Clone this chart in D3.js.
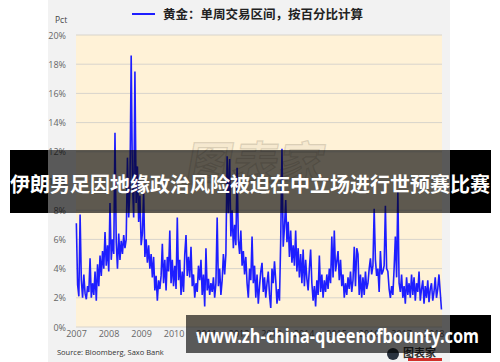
<!DOCTYPE html>
<html>
<head>
<meta charset="utf-8">
<script src="https://cdn.jsdelivr.net/npm/d3@7"></script>
<style>
  html, body { margin: 0; padding: 0; background: #ffffff; }
  svg { display: block; }
</style>
</head>
<body>
<div id="chart"></div>
<script>
// ---------- data ----------
const titleText = "黄金：单周交易区间，按百分比计算";
const unitLabel = "Pct";
const sourceText = "Source: Bloomberg, Saxo Bank";
const bannerText = "伊朗男足因地缘政治风险被迫在中立场进行世预赛比赛";
const footerText = "www.zh-china-queenofbounty.com";
const yearLabels = ["2007","2008","2009","2010","2011","2012","2013","2014","2015","2016","2017","2018"];
const yTickValues = [0, 2, 4, 6, 8, 10, 12, 14, 16, 18, 20];
const startDate = "2007-01-05";
const stepDays = 14;
const weeklyRange = [
  7.1, 2.9, 2.1, 7.7, 3.2, 2.0, 3.6, 2.3, 1.9, 2.8,
  2.4, 4.7, 2.0, 3.0, 2.2, 3.8, 1.8, 4.3, 2.8, 4.9,
  3.5, 5.2, 4.0, 6.5, 4.2, 5.6, 3.8, 8.5, 4.6, 6.0,
  5.0, 13.3, 5.8, 4.0, 6.4, 4.6, 5.9, 5.0, 6.3, 5.4,
  6.0, 11.6, 7.5, 9.5, 18.6, 10.0, 7.5, 17.5, 8.5, 11.0,
  7.2, 9.0, 5.6, 6.4, 9.2, 4.8, 6.0, 4.4, 5.6, 4.0,
  5.0, 3.4, 4.8, 2.5, 3.5, 1.8, 3.2, 2.6, 3.5, 5.7,
  3.0, 4.6, 2.5, 4.8, 3.8, 6.6, 3.0, 4.6, 2.8, 4.2,
  2.6, 7.5, 3.2, 4.6, 2.2, 3.8, 2.4, 5.0, 6.3, 3.5,
  4.8, 3.4, 5.5, 2.8, 3.6, 2.0, 3.0, 2.4, 4.2, 3.2,
  4.6, 2.2, 3.6, 1.4, 5.4, 2.5, 3.3, 2.2, 3.0, 2.4,
  3.4, 2.0, 3.0, 7.5, 2.8, 4.0, 2.2, 3.2, 5.0, 3.6,
  5.0, 11.7, 7.8, 11.5, 6.2, 8.0, 5.4, 7.0, 5.6, 10.9,
  6.0, 5.0, 6.6, 4.2, 5.2, 3.6, 4.8, 3.0, 2.0, 4.0,
  3.2, 6.2, 3.0, 4.2, 2.0, 3.6, 1.6, 2.8, 3.8, 4.4,
  2.4, 3.4, 2.0, 3.0, 3.8, 2.2, 1.3, 4.0, 3.0, 4.5,
  3.2, 1.6, 2.6, 1.8, 6.0, 12.2, 5.5, 6.8, 8.7, 5.8,
  7.2, 4.8, 6.6, 4.4, 5.6, 4.2, 6.6, 3.8, 5.4, 3.4,
  5.0, 3.0, 5.3, 2.8, 4.6, 3.3, 2.5, 4.0, 5.3, 3.0,
  1.8, 2.8, 1.4, 3.2, 2.2, 4.9, 2.4, 3.6, 2.0, 3.2,
  2.4, 3.6, 2.6, 4.0, 3.0, 6.2, 3.4, 6.6, 3.8, 4.5,
  5.2, 3.2, 4.6, 2.8, 3.6, 2.0, 3.0, 2.2, 3.4, 2.6,
  3.8, 2.4, 3.2, 5.5, 2.8, 5.4, 5.0, 2.2, 3.6, 2.0,
  3.4, 2.2, 3.8, 2.6, 3.0, 4.0, 4.7, 3.6, 4.2, 8.1,
  4.6, 3.5, 4.0, 2.4, 5.2, 3.6, 3.8, 4.2, 8.3, 4.0,
  3.8, 2.6, 2.0, 2.8, 2.2, 4.0, 6.2, 3.4, 9.3, 3.0,
  2.4, 3.6, 2.0, 2.8, 1.6, 3.4, 2.2, 3.0, 2.0, 3.6,
  2.2, 3.4, 1.8, 3.0, 2.4, 3.8, 1.8, 2.6, 3.2, 1.6,
  2.8, 2.0, 3.2, 1.7, 2.6, 3.0, 1.8, 2.4, 3.4, 2.0,
  2.6, 3.6, 2.4, 1.2
];

// ---------- layout ----------
const W = 500, H = 362;
const plot = { left: 76, right: 442, top: 35, bottom: 327 };
const parse = d3.timeParse("%Y-%m-%d");
const t0 = parse(startDate);
const series = weeklyRange.map((v, i) => ({ date: d3.timeDay.offset(t0, i * stepDays), value: v }));

const svg = d3.select("#chart").append("svg").attr("width", W).attr("height", H);

// panel
svg.append("rect").attr("x", 48).attr("y", 0).attr("width", 402).attr("height", H).attr("fill", "#f2f2f2");
svg.append("rect").attr("x", plot.left).attr("y", plot.top)
  .attr("width", plot.right - plot.left).attr("height", plot.bottom - plot.top).attr("fill", "#fff2d7");

const x = d3.scaleTime()
  .domain([new Date(2007, 0, 1), new Date(2018, 3, 5)])
  .range([plot.left, plot.right]);
const y = d3.scaleLinear().domain([0, 20]).range([plot.bottom, plot.top]);

// gridlines
svg.append("g").selectAll("line").data(yTickValues).join("line")
  .attr("x1", plot.left).attr("x2", plot.right)
  .attr("y1", d => y(d)).attr("y2", d => y(d))
  .attr("stroke", "#d8d4cc").attr("stroke-width", 1);

// y axis labels
const yAxis = d3.axisLeft(y).tickValues(yTickValues).tickSize(0).tickPadding(0).tickFormat(d => d + "%");
const gy = svg.append("g").attr("transform", `translate(66,0)`).call(yAxis);
gy.select(".domain").remove();
gy.selectAll("text").attr("font-family", "Open Sans, sans-serif").attr("font-size", 9).attr("fill", "#666").attr("dy", "0.35em");

// x axis labels
const yearDates = yearLabels.map(s => new Date(+s, 0, 1));
const xAxis = d3.axisBottom(x).tickValues(yearDates).tickSize(0).tickPadding(0).tickFormat(d3.timeFormat("%Y"));
const gx = svg.append("g").attr("transform", `translate(0,334)`).call(xAxis);
gx.select(".domain").remove();
gx.selectAll("text").attr("font-family", "Open Sans, sans-serif").attr("font-size", 9).attr("fill", "#666").attr("dy", "0.35em");

// faint watermark in plot
svg.append("text").attr("x", 255).attr("y", 180).attr("text-anchor", "middle")
  .attr("font-family", "Noto Sans CJK SC").attr("font-weight", 700).attr("font-size", 46)
  .attr("fill", "rgba(120,110,90,0.07)").attr("stroke", "rgba(110,100,80,0.22)").attr("stroke-width", 1.3)
  .attr("transform", "skewX(-10)").attr("dx", 30)
  .text("图表家");

// line
const line = d3.line().x(d => x(d.date)).y(d => y(d.value));
svg.append("path").datum(series).attr("d", line)
  .attr("fill", "none").attr("stroke", "#1e1eff").attr("stroke-width", 1.6).attr("stroke-linejoin", "miter");

// title & legend
svg.append("line").attr("x1", 132).attr("x2", 155).attr("y1", 14).attr("y2", 14)
  .attr("stroke", "#1e1eff").attr("stroke-width", 2);
svg.append("text").attr("x", 163).attr("y", 19)
  .attr("font-family", "Noto Sans CJK SC").attr("font-weight", 700).attr("font-size", 12.5).attr("fill", "#222")
  .text(titleText);
svg.append("text").attr("x", 55).attr("y", 23)
  .attr("font-family", "Open Sans, sans-serif").attr("font-size", 8.5).attr("fill", "#444").text(unitLabel);

// source
svg.append("text").attr("x", 57).attr("y", 355)
  .attr("font-family", "Open Sans, sans-serif").attr("font-size", 7.5).attr("fill", "#333").text(sourceText);

// logo (partially visible)
const logo = svg.append("g");
logo.append("circle").attr("cx", 393).attr("cy", 354).attr("r", 6).attr("fill", "#2b3440");
logo.append("text").attr("x", 403).attr("y", 357).attr("font-family", "Noto Sans CJK SC").attr("font-weight", 700)
  .attr("font-size", 11).attr("fill", "#333").text("图表家");
logo.append("rect").attr("x", 408).attr("y", 358).attr("width", 34).attr("height", 3).attr("fill", "#d0302a");

// banner overlay
function overlay(y0, h, x0, x1) {
  svg.append("rect").attr("x", x0).attr("y", y0).attr("width", Math.max(0, Math.min(x1, 48) - x0)).attr("height", h).attr("fill", "#000");
  svg.append("rect").attr("x", Math.max(x0, 48)).attr("y", y0).attr("width", Math.min(x1, 450) - Math.max(x0, 48)).attr("height", h).attr("fill", "rgba(0,0,0,0.63)");
  svg.append("rect").attr("x", 450).attr("y", y0).attr("width", x1 - 450).attr("height", h).attr("fill", "#000");
}
overlay(150, 63, 10, 491);
svg.append("text").attr("x", 250).attr("y", 191.5).attr("text-anchor", "middle")
  .attr("font-family", "Noto Sans CJK SC").attr("font-weight", 700).attr("font-size", 20).attr("fill", "#fff")
  .attr("textLength", 480).attr("lengthAdjust", "spacingAndGlyphs")
  .text(bannerText);

overlay(315, 38, 186, 491);
svg.append("text").attr("x", 337.5).attr("y", 343).attr("text-anchor", "middle")
  .attr("font-family", "Noto Sans, sans-serif").attr("font-weight", 700).attr("font-size", 19).attr("fill", "#fff")
  .attr("textLength", 283).attr("lengthAdjust", "spacingAndGlyphs")
  .text(footerText);
</script>
</body>
</html>
